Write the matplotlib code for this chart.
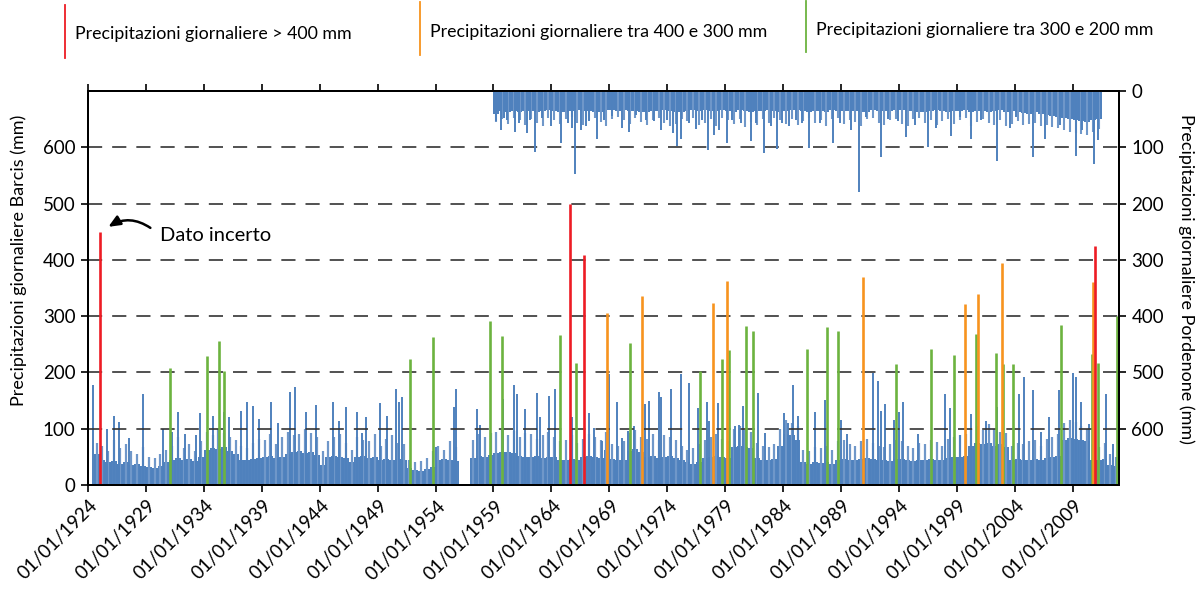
import matplotlib
matplotlib.use('Agg')
import matplotlib.pyplot as plt
import matplotlib.transforms as mtransforms
from matplotlib.lines import Line2D
from matplotlib import font_manager as fm


# Barcis: livello medio semestrale (da 1924.0, passo 0.5 anni)
barcis_base = [
    0, 55, 45, 40, 42, 38, 40, 36, 38, 34, 32, 30, 34, 40, 45, 48, 44, 46, 42, 50,
    62, 66, 64, 68, 60, 55, 45, 44, 46, 48, 50, 52, 48, 50, 55, 58, 60, 56, 58, 54,
    35, 50, 52, 50, 48, 40, 50, 52, 48, 50, 45, 46, 44, 47, 45, 30, 26, 25, 28, 32,
    45, 46, 44, 42, 0, 0, 48, 52, 50, 54, 56, 58, 58, 56, 52, 50, 50, 52, 48, 50,
    50, 45, 44, 46, 45, 50, 52, 50, 48, 62, 46, 44, 45, 60, 64, 58, 50, 52, 48, 50,
    52, 48, 45, 40, 38, 40, 48, 50, 52, 50, 48, 68, 70, 68, 66, 48, 45, 44, 46, 70,
    90, 88, 80, 40, 38, 40, 39, 40, 38, 44, 46, 45, 44, 46, 48, 46, 45, 44, 42, 46,
    46, 44, 42, 45, 44, 46, 45, 44, 48, 50, 50, 52, 70, 74, 72, 75, 70, 72, 68, 45,
    46, 44, 45, 46, 44, 48, 50, 52, 80, 84, 82, 80, 78, 45, 44, 46, 35, 34,
]

# Barcis: picco secondario di ogni semestre (stesso passo)
barcis_mid = [
    0, 75, 70, 60, 80, 65, 72, 60, 55, 68, 50, 48, 55, 62, 70, 85, 66, 72, 60, 78,
    95, 88, 100, 92, 85, 80, 70, 65, 75, 82, 80, 90, 72, 85, 95, 88, 90, 100, 92, 85,
    60, 78, 85, 90, 75, 62, 85, 80, 78, 90, 70, 82, 88, 75, 72, 45, 40, 42, 48, 60,
    70, 62, 78, 68, 0, 0, 80, 90, 85, 92, 95, 100, 88, 96, 85, 92, 90, 82, 88, 95,
    85, 78, 80, 88, 75, 82, 90, 85, 80, 95, 72, 70, 78, 92, 98, 85, 82, 90, 80, 88,
    85, 80, 70, 62, 65, 72, 80, 85, 90, 82, 78, 100, 105, 98, 95, 75, 70, 68, 72, 100,
    115, 110, 105, 62, 60, 68, 65, 70, 62, 78, 80, 72, 70, 78, 82, 75, 70, 68, 72, 80,
    78, 70, 65, 75, 72, 80, 76, 70, 82, 85, 88, 90, 100, 105, 98, 108, 100, 95, 92, 70,
    75, 72, 78, 80, 70, 82, 85, 90, 110, 115, 112, 105, 100, 72, 68, 75, 55, 50,
]

# Barcis: picchi giornalieri sotto 200 mm
barcis_peak_years = [
    1924.46, 1925.61, 1926.27, 1926.70, 1927.57, 1928.72, 1930.50, 1931.25, 1931.74, 1932.37,
    1933.32, 1933.69, 1934.78, 1935.76, 1936.19, 1937.20, 1937.75, 1938.21, 1938.78, 1939.79,
    1940.36, 1941.43, 1941.83, 1942.81, 1943.67, 1945.17, 1945.68, 1946.26, 1947.18, 1947.67,
    1947.96, 1949.19, 1949.83, 1950.60, 1950.83, 1951.12, 1954.00, 1955.58, 1955.75, 1957.59,
    1957.88, 1959.80, 1960.76, 1961.00, 1961.76, 1962.77, 1963.06, 1963.77, 1964.35, 1965.79,
    1967.23, 1967.66, 1968.38, 1968.98, 1969.64, 1970.07, 1970.65, 1971.14, 1972.09, 1972.43,
    1973.30, 1973.47, 1974.30, 1975.19, 1975.88, 1976.63, 1977.41, 1977.61, 1978.36, 1979.85,
    1980.22, 1980.57, 1981.81, 1982.44, 1984.11, 1984.46, 1984.88, 1985.33, 1986.76, 1987.62,
    1989.00, 1989.49, 1991.76, 1992.19, 1992.48, 1992.77, 1993.57, 1994.00, 1994.35, 1995.64,
    1997.94, 1998.37, 1999.24, 2000.24, 2001.48, 2002.49, 2004.36, 2004.79, 2005.57, 2006.28,
    2007.00, 2007.86, 2009.02, 2009.25, 2009.73, 2010.40, 2011.89, 2012.47,
]
barcis_peak_vals = [
    177, 99, 123, 112, 84, 162, 99, 94, 129, 90,
    89, 128, 123, 129, 120, 132, 148, 140, 118, 147,
    111, 165, 174, 130, 143, 148, 114, 138, 130, 93,
    120, 145, 122, 171, 147, 157, 68, 138, 171, 135,
    106, 153, 177, 162, 135, 163, 120, 159, 171, 120,
    128, 102, 78, 198, 147, 84, 96, 105, 144, 150,
    165, 156, 171, 198, 181, 136, 148, 114, 146, 105,
    106, 141, 163, 92, 128, 111, 178, 123, 129, 151,
    116, 90, 199, 184, 132, 144, 116, 129, 148, 90,
    162, 136, 88, 126, 114, 138, 162, 192, 169, 94,
    120, 168, 199, 192, 147, 108, 162, 72,
]

# eventi estremi Barcis per classe
red_years = [1925.04, 1965.62, 1966.80, 2010.97]
red_vals = [450, 500, 409, 424]
orange_years = [1968.78, 1971.80, 1977.98, 1979.16, 1990.88, 1999.67, 2000.82, 2002.86, 2010.76]
orange_vals = [305, 335, 323, 363, 369, 321, 339, 394, 361]
green_years = [
    1931.07, 1934.27, 1935.27, 1935.70, 1951.78, 1953.74, 1958.69, 1959.75, 1964.72, 1966.11,
    1970.79, 1976.80, 1978.70, 1979.33, 1980.77, 1981.40, 1986.06, 1987.79, 1988.74, 1993.72,
    1996.79, 1998.75, 2000.68, 2002.40, 2002.98, 2003.84, 2008.01, 2010.68, 2011.23, 2012.81,
]
green_vals = [
    208, 229, 256, 202, 223, 263, 291, 264, 266, 216,
    252, 203, 223, 239, 283, 273, 241, 281, 274, 215,
    241, 231, 269, 235, 215, 215, 285, 233, 216, 300,
]

# Pordenone: livello medio semestrale (da 1959.0, passo 0.5 anni)
pordenone_base = [
    40, 36, 37, 35, 38, 36, 35, 38, 36, 34, 35, 37, 38, 35, 34, 36, 36, 38, 37, 34,
    33, 35, 34, 36, 35, 37, 38, 35, 36, 34, 35, 37, 37, 35, 34, 36, 33, 35, 36, 34,
    35, 37, 34, 36, 38, 35, 36, 34, 35, 37, 36, 33, 34, 36, 37, 35, 35, 37, 34, 36,
    36, 35, 35, 38, 37, 34, 35, 36, 36, 34, 33, 35, 35, 37, 37, 35, 34, 36, 38, 35,
    36, 34, 37, 35, 35, 37, 36, 34, 38, 36, 37, 39, 40, 38, 40, 42, 44, 46, 48, 50,
    52, 54, 55, 52, 50,
]

# Pordenone: picco secondario di ogni semestre (stesso passo)
pordenone_mid = [
    55, 50, 58, 48, 52, 60, 50, 56, 62, 48, 52, 58, 50, 46, 56, 60, 52, 48, 55, 62,
    50, 46, 52, 58, 48, 55, 60, 52, 48, 56, 62, 58, 50, 54, 48, 60, 56, 50, 62, 48,
    52, 58, 50, 64, 55, 60, 50, 56, 48, 52, 58, 50, 60, 54, 48, 56, 52, 62, 50, 48,
    58, 52, 55, 62, 50, 48, 56, 60, 52, 50, 58, 62, 50, 48, 56, 52, 60, 54, 50, 58,
    52, 48, 62, 55, 50, 56, 60, 52, 62, 58, 54, 60, 58, 56, 62, 60, 64, 66, 70, 72,
    74, 76, 78, 72, 68,
]

pordenone_peak_years = [
    1959.06, 1959.20, 1959.63, 1959.92, 1960.21, 1960.87, 1961.22, 1961.88, 1962.17, 1962.57,
    1963.23, 1963.95, 1964.81, 1965.47, 1965.76, 1966.02, 1966.54, 1966.97, 1967.26, 1967.92,
    1968.55, 1969.27, 1970.13, 1970.71, 1971.28, 1972.15, 1972.86, 1973.44, 1974.01, 1974.50,
    1974.88, 1975.22, 1975.88, 1976.52, 1977.03, 1977.49, 1978.04, 1978.47, 1979.16, 1979.62,
    1980.34, 1981.20, 1981.69, 1982.36, 1982.93, 1983.51, 1983.94, 1984.51, 1985.09, 1985.66,
    1986.24, 1987.16, 1988.31, 1988.88, 1989.89, 1990.55, 1991.18, 1992.42, 1993.05, 1993.92,
    1994.64, 1995.35, 1996.50, 1997.22, 1998.52, 1999.24, 2000.24, 2001.11, 2002.49, 2003.55,
    2004.07, 2005.56, 2006.63, 2007.87, 2009.25, 2009.82, 2010.83, 2011.17,
]
pordenone_peak_vals = [
    38, 54, 69, 48, 51, 72, 57, 75, 51, 109,
    48, 62, 92, 57, 66, 147, 69, 63, 54, 86,
    51, 45, 66, 72, 42, 51, 54, 70, 51, 75,
    97, 86, 57, 67, 51, 105, 78, 69, 92, 51,
    57, 89, 57, 110, 63, 103, 57, 62, 51, 56,
    102, 57, 93, 57, 69, 180, 46, 117, 49, 54,
    81, 60, 99, 66, 80, 46, 86, 51, 124, 66,
    46, 117, 86, 60, 115, 69, 130, 87,
]

tick_years = list(range(1924, 2010, 5))
tick_labels = ['01/01/%d' % y for y in tick_years]

BLUE = '#4f81bd'
LIGHT_BLUE = '#6f97c9'
RED = '#ed1c24'
ORANGE = '#f7931e'
GREEN = '#6cb33f'
W, H = 1204, 594

plt.rcParams['font.family'] = ['Lato', 'DejaVu Sans']


def pick_font(names):
    for name in names:
        try:
            fm.findfont(fm.FontProperties(family=name), fallback_to_default=False)
            return name
        except Exception:
            pass
    return 'Lato'


narrow = pick_font(['Liberation Sans Narrow', 'Lato'])
legend_size = 14 if narrow != 'Lato' else 12.8

fig = plt.figure(figsize=(W / 100, H / 100), dpi=100)
ax = fig.add_axes([88 / W, 1 - 485 / H, (1119 - 88) / W, (485 - 91) / H])

# Barcis
base_x = [1924 + 0.5 * i for i in range(len(barcis_base))]
ax.bar(base_x, barcis_base, width=0.5, align='edge', color=BLUE, linewidth=0, zorder=2)
ax.vlines([x + 0.25 for x in base_x], 0, barcis_mid, color=LIGHT_BLUE, lw=1.6, zorder=2)
ax.vlines(barcis_peak_years, 0, barcis_peak_vals, color=BLUE, lw=1.4, zorder=2)

for y in range(100, 700, 100):
    ax.axhline(y, color='#333333', lw=1.2, ls=(0, (8.5, 6)), zorder=3)

ax.vlines(green_years, 0, green_vals, color=GREEN, lw=1.9, zorder=4)
ax.vlines(orange_years, 0, orange_vals, color=ORANGE, lw=1.9, zorder=4)
ax.vlines(red_years, 0, red_vals, color=RED, lw=1.9, zorder=5)

ax.set_xlim(1924, 2013)
ax.set_ylim(0, 700)
ax.set_yticks(range(0, 700, 100))
ax.set_xticks(tick_years)
ax.set_xticklabels(tick_labels, rotation=45, ha='right', va='center',
                   rotation_mode='anchor', fontsize=13.5)
ax.tick_params(axis='x', direction='out', length=5, width=1.2, pad=8, top=True)
ax.tick_params(axis='y', direction='out', length=5, width=1.2, labelsize=13.5, pad=4)
shift = mtransforms.ScaledTranslation(7 / 100, 0, fig.dpi_scale_trans)
for lab in ax.get_xticklabels():
    lab.set_transform(lab.get_transform() + shift)
for s in ax.spines.values():
    s.set_linewidth(1.4)

# Pordenone, asse destro rovesciato
ax2 = ax.twinx()
pbase_x = [1959 + 0.5 * i for i in range(len(pordenone_base))]
ax2.bar(pbase_x, pordenone_base, width=0.5, align='edge', color=BLUE, linewidth=0)
ax2.vlines([x + 0.25 for x in pbase_x], 0, pordenone_mid, color=LIGHT_BLUE, lw=1.5)
ax2.vlines(pordenone_peak_years, 0, pordenone_peak_vals, color=BLUE, lw=1.4)
ax2.set_ylim(700, 0)
ax2.set_yticks(range(0, 700, 100))
ax2.tick_params(axis='y', direction='out', length=5, width=1.2, labelsize=13.5, pad=4)
for s in ax2.spines.values():
    s.set_linewidth(1.4)

ax.annotate('', xy=(1925.55, 456), xytext=(1929.58, 454),
            arrowprops=dict(arrowstyle='-|>,head_length=0.7,head_width=0.3',
                            color='black', lw=1.8,
                            connectionstyle='arc3,rad=0.35'))
ax.text(1930.2, 444, 'Dato incerto', ha='left', va='center', fontsize=14.5)

fig.text(18.5 / W, 1 - 260 / H, 'Precipitazioni giornaliere Barcis (mm)',
         rotation=90, ha='center', va='center', fontsize=13)
fig.text(1186 / W, 1 - 279 / H, 'Precipitazioni giornaliere Pordenone (mm)',
         rotation=270, ha='center', va='center', fontsize=13)

# legenda in alto
legend_items = [
    (65, 5, 58, RED, 'Precipitazioni giornaliere > 400 mm', 34),
    (420, 2, 55, ORANGE, 'Precipitazioni giornaliere tra 400 e 300 mm', 32),
    (806, 1, 52, GREEN, 'Precipitazioni giornaliere tra 300 e 200 mm', 30),
]
for lx, ly0, ly1, col, txt, ty in legend_items:
    fig.add_artist(Line2D([lx / W, lx / W], [1 - ly0 / H, 1 - ly1 / H], color=col, lw=1.3))
    fig.text((lx + 10) / W, 1 - ty / H, txt, ha='left', va='center', fontsize=legend_size,
             family=[narrow, 'DejaVu Sans'])

fig.savefig('out.png', dpi=100)
